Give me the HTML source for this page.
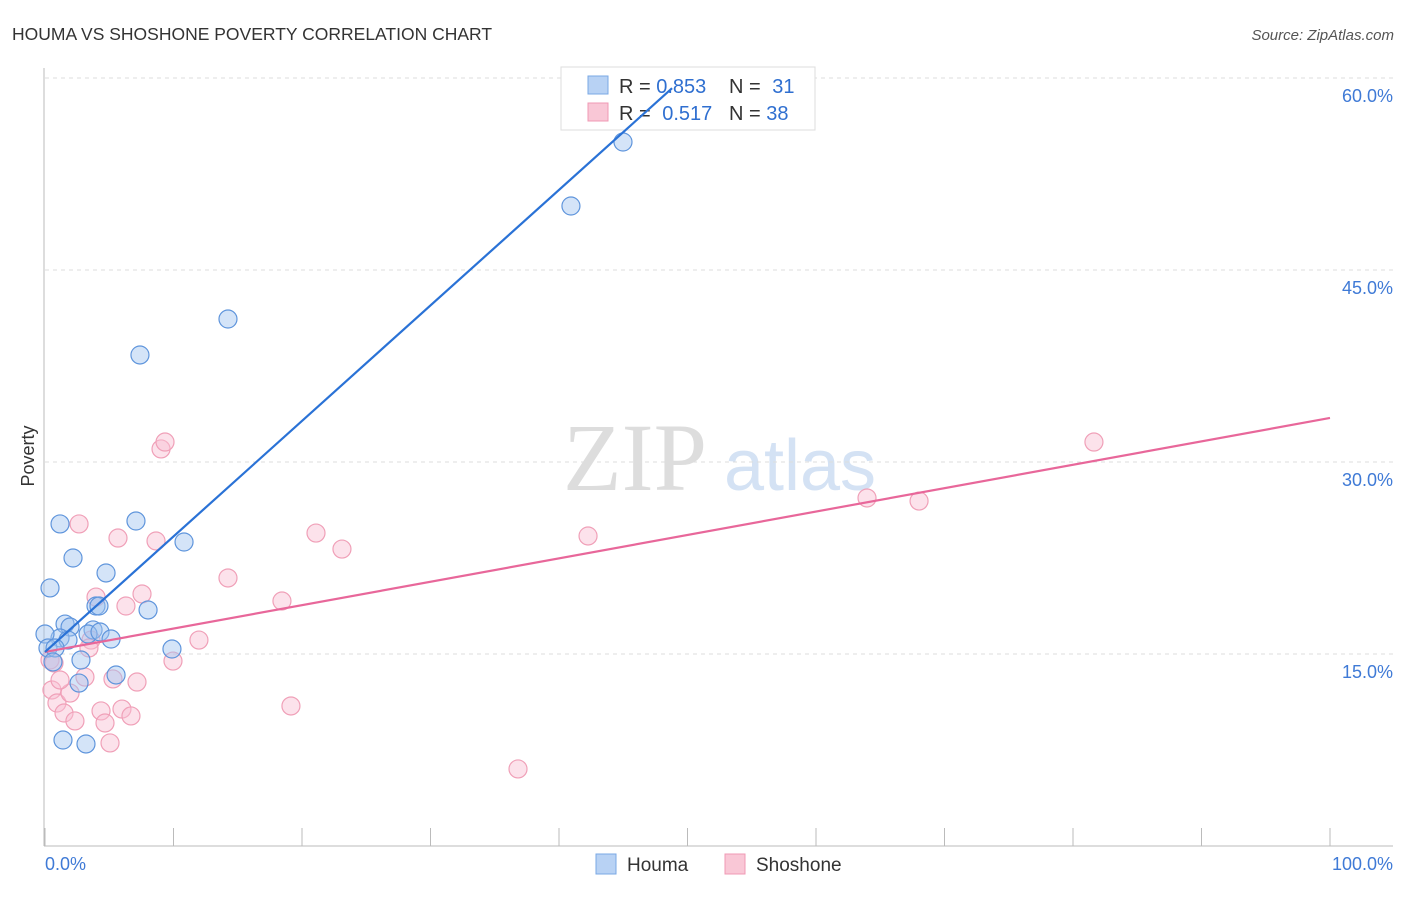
<!DOCTYPE html>
<html><head><meta charset="utf-8"><style>
body{margin:0;background:#fff;font-family:"Liberation Sans",sans-serif}
</style></head><body>
<svg width="1406" height="892" xmlns="http://www.w3.org/2000/svg">
<text x="12" y="40" font-size="17.5" fill="#333">HOUMA VS SHOSHONE POVERTY CORRELATION CHART</text>
<text x="1394" y="40" font-size="15" fill="#555" text-anchor="end" font-style="italic">Source: ZipAtlas.com</text>
<g>
<text x="635" y="490" font-size="96" fill="#ddd" font-family="Liberation Serif,serif" text-anchor="middle">ZIP</text>
<text x="800" y="490" font-size="72" fill="#d4e2f4" text-anchor="middle">atlas</text>
</g>
<g id="grid"></g>
<g id="axes"></g>
<g>
<rect x="561" y="67" width="254" height="63" fill="#fff" stroke="#ddd"/>
<rect x="588" y="76" width="20" height="18" fill="#b8d2f4" stroke="#7aa8e4"/>
<text x="619" y="93" font-size="20" fill="#333">R = <tspan fill="#2f6fd0">0.853</tspan></text>
<text x="729" y="93" font-size="20" fill="#333">N = <tspan fill="#2f6fd0" dx="6">31</tspan></text>
<rect x="588" y="103" width="20" height="18" fill="#f9c7d6" stroke="#f09ab4"/>
<text x="619" y="120" font-size="20" fill="#333">R = <tspan fill="#2f6fd0" dx="6">0.517</tspan></text>
<text x="729" y="120" font-size="20" fill="#333">N = <tspan fill="#2f6fd0">38</tspan></text>
</g>
<g id="marks"></g>
<text transform="translate(34,456) rotate(-90)" font-size="18" fill="#333" text-anchor="middle">Poverty</text>
<g>
<rect x="596" y="854" width="20" height="20" fill="#b8d2f4" stroke="#7aa8e4"/>
<text x="627" y="871" font-size="19" fill="#333">Houma</text>
<rect x="725" y="854" width="20" height="20" fill="#f9c7d6" stroke="#f09ab4"/>
<text x="756" y="871" font-size="19" fill="#333">Shoshone</text>
</g>
</svg>
<script>
const yTicks=[15,30,45,60];
const yTickLabels=["15.0%","30.0%","45.0%","60.0%"];
const houmaX=[1.17,2.18,0.39,4.75,7.08,10.82,3.97,4.2,8.02,1.56,1.95,3.74,3.35,4.28,5.14,1.17,1.79,0,0.23,0.78,0.62,2.8,2.65,5.53,9.88,1.4,3.19,7.39,14.24,40.93,44.98];
const houmaY=[25.16,22.5,20.16,21.33,25.39,23.75,18.75,18.75,18.44,17.34,17.11,16.88,16.56,16.72,16.17,16.25,16.09,16.56,15.47,15.47,14.38,14.53,12.73,13.36,15.39,8.28,7.97,38.36,41.17,50.0,55.0];
const shoX=[2.65,5.68,8.64,9.03,9.34,14.24,21.09,23.11,18.44,11.98,9.96,6.3,7.55,3.97,3.58,3.42,0.39,0.7,0.54,0.93,1.48,2.33,1.95,1.17,3.11,5.29,7.16,4.36,5.99,6.69,4.67,5.06,19.14,36.81,42.26,63.97,68.02,81.63];
const shoY=[25.16,24.06,23.83,31.02,31.56,20.94,24.45,23.2,19.14,16.09,14.45,18.75,19.69,19.45,16.09,15.47,14.53,14.3,12.19,11.17,10.39,9.77,11.95,12.97,13.2,13.05,12.81,10.55,10.7,10.16,9.61,8.05,10.94,6.02,24.22,27.19,26.95,31.56];
const houmaTrend=[15.16,59.2];
const houmaTrendEndX=48.8;
const shoTrend=[15.16,33.44];
const NS="http://www.w3.org/2000/svg";
const X=v=>45+v*12.85, Y=v=>846-v*12.8;
function mk(t,a,p){const e=document.createElementNS(NS,t);for(const k in a)e.setAttribute(k,a[k]);p.appendChild(e);return e;}
const grid=document.getElementById('grid'),axes=document.getElementById('axes'),marks=document.getElementById('marks');
yTicks.forEach((t,i)=>{
 const l=mk('line',{x1:45,x2:1393,y1:Y(t),y2:Y(t),stroke:'#ddd','stroke-dasharray':'4,4'},grid);
 
 
 const tx=mk('text',{x:1393,y:Y(t)+24,'font-size':18,fill:'#3f7ad6','text-anchor':'end'},axes);
 tx.textContent=yTickLabels[i];
 
 
});
let a=mk('line',{x1:44,x2:44,y1:68,y2:846,stroke:'#bbb'},axes);


a=mk('line',{x1:44,x2:1393,y1:846,y2:846,stroke:'#bbb'},axes);


for(let i=0;i<=10;i++){const t=mk('line',{x1:X(i*10),x2:X(i*10),y1:846,y2:828,stroke:'#bbb'},axes);
 
 }
let xl=mk('text',{x:45,y:870,'font-size':18,fill:'#3f7ad6'},axes);xl.textContent='0.0%';


xl=mk('text',{x:1393,y:870,'font-size':18,fill:'#3f7ad6','text-anchor':'end'},axes);xl.textContent='100.0%';


function pts(xs,ys,fill,stroke,name){xs.forEach((v,i)=>{const c=mk('circle',{cx:X(v),cy:Y(ys[i]),r:9,fill:fill,stroke:stroke,'stroke-width':1.2},marks);
 
 });}
pts(shoX,shoY,'rgba(248,190,210,0.45)','#f0a0b8','shoshone-point');
pts(houmaX,houmaY,'rgba(160,196,240,0.45)','#5f95dc','houma-point');
let tl=mk('line',{x1:X(0),y1:Y(shoTrend[0]),x2:X(100),y2:Y(shoTrend[1]),stroke:'#e8679a','stroke-width':2.2},marks);


tl=mk('line',{x1:X(0),y1:Y(houmaTrend[0]),x2:X(houmaTrendEndX),y2:Y(houmaTrend[1]),stroke:'#2a72d6','stroke-width':2.2},marks);


</script>
</body></html>
